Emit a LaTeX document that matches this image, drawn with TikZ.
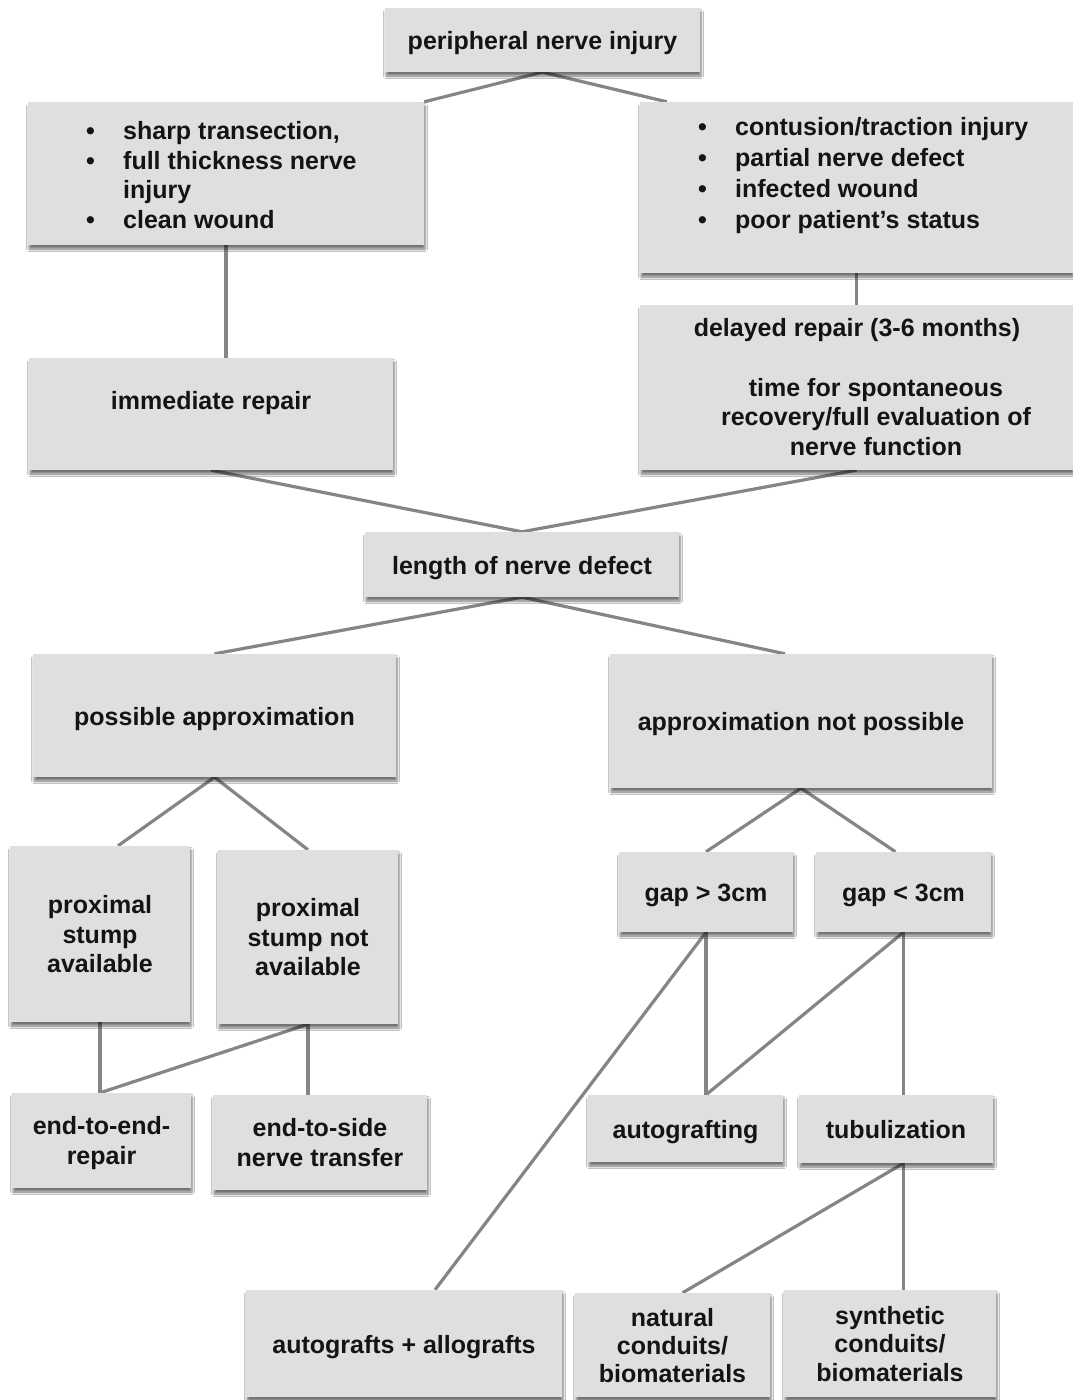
\documentclass[tikz,border=0pt]{standalone}
\usepackage{fontspec}
\setmainfont{Liberation Sans}
\usetikzlibrary{positioning,shadows.blur,backgrounds}

\definecolor{boxgray}{gray}{0.875}
\definecolor{linkgray}{gray}{0.52}
\newcommand\itm{\makebox[37pt][l]{•}}

\begin{document}
\begin{tikzpicture}[x=1pt,y=-1pt,
    every node/.style={font=\fontsize{25}{29.5}\selectfont\bfseries,text=black!92,inner sep=0pt,align=center},
    box/.style 2 args={fill=boxgray,minimum width=#1,minimum height=#2,
      blur shadow={shadow xshift=1pt,shadow yshift=-4pt,shadow blur radius=2.5pt,shadow opacity=55}},
    one/.style={text height=25pt,text depth=5.3pt},
    multi/.style={text depth=0pt},
    link/.style={draw=linkgray,line width=3.2pt}]
  \useasboundingbox (0,0) rectangle (1073,1400);

  % boxes, top to bottom
  \node[box={315}{64},one] (pni) at (542.5,40) {peripheral nerve injury};
  \node[box={396}{143}] (sharp) at (226,173.5) {};
  \node[box={433}{171}] (cont) at (856.5,187.5) {};
  \node[box={364}{112}] (imm) at (211,414) {};
  \node[box={433}{165}] (del) at (856.5,387.5) {};
  \node[box={314}{65},one] (len) at (522,564.5) {length of nerve defect};
  \node[box={363}{123},one] (posapp) at (214.5,715.5) {possible approximation};
  \node[box={382}{134},one] (notapp) at (801,721) {approximation not possible};
  \node[box={180}{176},multi] (psa) at (100,934) {proximal\\stump\\available};
  \node[box={180}{174},multi] (psna) at (308,937) {proximal\\stump not\\available};
  \node[box={174}{80},one] (gapgt) at (706,892) {gap > 3cm};
  \node[box={175}{80},one] (gaplt) at (903.5,892) {gap < 3cm};
  \node[box={179}{95},multi] (e2e) at (101.5,1140.5) {end-to-end-\\repair};
  \node[box={214}{95},multi] (e2s) at (320,1142.5) {end-to-side\\nerve transfer};
  \node[box={195}{67},one] (agr) at (685.5,1128.5) {autografting};
  \node[box={194}{68},one] (tub) at (896,1129) {tubulization};
  \node[box={316}{107},one] (aa) at (404,1343.5) {autografts + allografts};
  \node[box={195}{104},multi] (nat) at (672.5,1345) {natural\\[-1.5pt]conduits/\\[-1.5pt]biomaterials};
  \node[box={212}{107},multi] (syn) at (890,1343.5) {synthetic\\[-1pt]conduits/\\[-1pt]biomaterials};

  % texts that don't sit in the middle of their box
  \node[anchor=west,align=left] (sharp-t) at (86,175)
    {\itm sharp transection,\\\itm full thickness nerve\\\hspace*{37pt}injury\\\itm clean wound};
  \node[anchor=west,align=left] (cont-t) at (698,175.5)
    {\itm contusion/traction injury\\[1.5pt]\itm partial nerve defect\\[1.5pt]\itm infected wound\\[1.5pt]\itm poor patient’s status};
  \node (imm-t) at ([yshift=11pt]imm.center) {immediate repair};
  \node (del-a) at (857,330) {delayed repair (3-6 months)};
  \node (del-b) at (876,417) {time for spontaneous\\recovery/full evaluation of\\nerve function};

  % where connectors meet a box off its middle
  \coordinate (cont-in) at ([xshift=27pt]cont.north west);
  \coordinate (imm-in) at (sharp.south |- imm.north);
  \coordinate (notapp-in) at ([xshift=-16pt]notapp.north);
  \coordinate (psa-in) at ([xshift=18pt]psa.north);
  \coordinate (e2e-in) at (psa.south |- e2e.north);
  \coordinate (e2s-in) at (psna.south |- e2s.north);
  \coordinate (gaplt-in) at ([xshift=-8pt]gaplt.north);
  \coordinate (agr-in) at (gapgt.south |- agr.north);
  \coordinate (aa-in) at ([xshift=31pt]aa.north);
  \coordinate (tub-in) at (gaplt.south |- tub.north);
  \coordinate (tub-out) at (gaplt.south |- tub.south);
  \coordinate (nat-in) at ([xshift=10pt]nat.north);
  \coordinate (syn-in) at (gaplt.south |- syn.north);

  \begin{scope}[on background layer]
    \fill[white] (0,0) rectangle (1073,1400);
    \foreach \a/\b in {pni.south/sharp.north east,pni.south/cont-in,sharp.south/imm-in,
        cont.south/del.north,imm.south/len.north,del.south/len.north,
        len.south/posapp.north,len.south/notapp-in,posapp.south/psa-in,posapp.south/psna.north,
        psa.south/e2e-in,psna.south/e2e-in,psna.south/e2s-in,
        notapp.south/gapgt.north,notapp.south/gaplt-in,
        gapgt.south/agr-in,gapgt.south/aa-in,gaplt.south/agr-in,gaplt.south/tub-in,
        tub-out/nat-in,tub-out/syn-in}{
      \draw[link] (\a)--(\b);
    }
  \end{scope}
\end{tikzpicture}
\end{document}
